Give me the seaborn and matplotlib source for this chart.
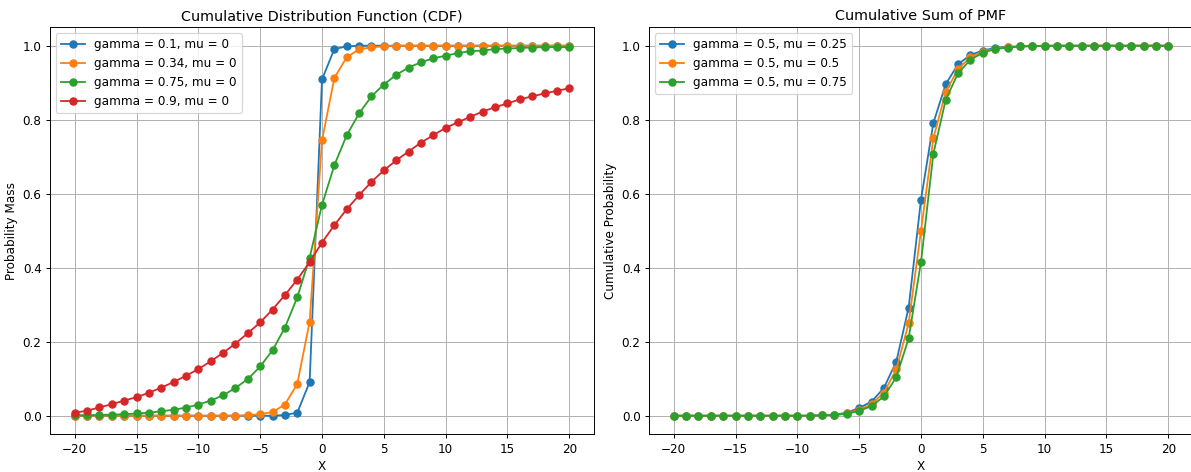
import numpy as np
import pandas as pd
import matplotlib
matplotlib.use("Agg")
import matplotlib.pyplot as plt
import seaborn as sns

# x values shared by all curves
x_vals = list(range(-20, 21))

# Left panel: CDF, mu = 0
left_labels = ["gamma = 0.1, mu = 0", "gamma = 0.34, mu = 0",
               "gamma = 0.75, mu = 0", "gamma = 0.9, mu = 0"]
cdf_g010 = [0.0] * 17 + [0.002, 0.008, 0.091, 0.909, 0.991, 0.998] + [1.0] * 18
cdf_g034 = [0.0] * 14 + [0.001, 0.004, 0.010, 0.030, 0.086, 0.254, 0.744, 0.913,
                         0.969, 0.990, 0.996, 0.998] + [1.0] * 15
cdf_g075 = [0.001, 0.001, 0.002, 0.003, 0.004, 0.006, 0.008, 0.012, 0.016, 0.022,
            0.030, 0.041, 0.055, 0.075, 0.099, 0.133, 0.177, 0.238, 0.320, 0.427,
            0.570, 0.677, 0.758, 0.817, 0.863, 0.895, 0.921, 0.941, 0.955, 0.966,
            0.973, 0.980, 0.985, 0.987, 0.991, 0.992, 0.994, 0.995, 0.996, 0.996,
            0.996]
cdf_g090 = [0.008, 0.0135, 0.0225, 0.031, 0.041, 0.050, 0.062, 0.076, 0.091, 0.108,
            0.126, 0.147, 0.170, 0.195, 0.223, 0.252, 0.287, 0.326, 0.368, 0.415,
            0.468, 0.515, 0.558, 0.596, 0.632, 0.663, 0.690, 0.714, 0.738, 0.758,
            0.778, 0.793, 0.808, 0.822, 0.834, 0.844, 0.855, 0.863, 0.871, 0.878,
            0.885]

# Right panel: cumulative sum of PMF, gamma = 0.5
right_labels = ["gamma = 0.5, mu = 0.25", "gamma = 0.5, mu = 0.5",
                "gamma = 0.5, mu = 0.75"]
cum_mu025 = [0.0] * 12 + [0.001, 0.003, 0.008, 0.021, 0.038, 0.075, 0.146, 0.292,
                          0.584, 0.791, 0.896, 0.950, 0.975, 0.987, 0.994, 0.997,
                          0.998, 0.999] + [1.0] * 11
cum_mu050 = [0.0] * 12 + [0.001, 0.002, 0.006, 0.016, 0.031, 0.0625, 0.125, 0.25,
                          0.5, 0.75, 0.875, 0.9375, 0.969, 0.984, 0.992, 0.996,
                          0.998, 0.999] + [1.0] * 11
cum_mu075 = [0.0] * 12 + [0.001, 0.002, 0.005, 0.013, 0.026, 0.052, 0.104, 0.209,
                          0.416, 0.708, 0.854, 0.926, 0.962, 0.981, 0.991, 0.995,
                          0.998, 0.999, 0.999] + [1.0] * 10

colors = ["#1f77b4", "#ff7f0e", "#2ca02c", "#d62728"]

dpi = 86.4
W, H = 1191, 472
fig, axes = plt.subplots(1, 2, figsize=(W / dpi, H / dpi), dpi=dpi)
# axes placed to match the reference (right panel runs past the canvas edge)
axes[0].set_position([50 / W, 1 - 434.2 / H, 544 / W, 407 / H])
axes[1].set_position([649 / W, 1 - 434.2 / H, 544 / W, 407 / H])


def draw(ax, series, labels):
    for ys, lab, c in zip(series, labels, colors):
        df = pd.DataFrame({"x": x_vals, "y": ys})
        sns.lineplot(data=df, x="x", y="y", ax=ax, color=c, marker="o",
                     markersize=6, markeredgecolor=c, markeredgewidth=1,
                     linewidth=1.5, label=lab)
    ax.grid(True)
    ax.legend(loc="upper left")


draw(axes[0], [cdf_g010, cdf_g034, cdf_g075, cdf_g090], left_labels)
axes[0].set_title("Cumulative Distribution Function (CDF)")
axes[0].set_xlabel("X")
axes[0].set_ylabel("Probability Mass")

draw(axes[1], [cum_mu025, cum_mu050, cum_mu075], right_labels)
axes[1].set_title("Cumulative Sum of PMF")
axes[1].set_xlabel("X")
axes[1].set_ylabel("Cumulative Probability")

fig.savefig("out.png", dpi=dpi)
